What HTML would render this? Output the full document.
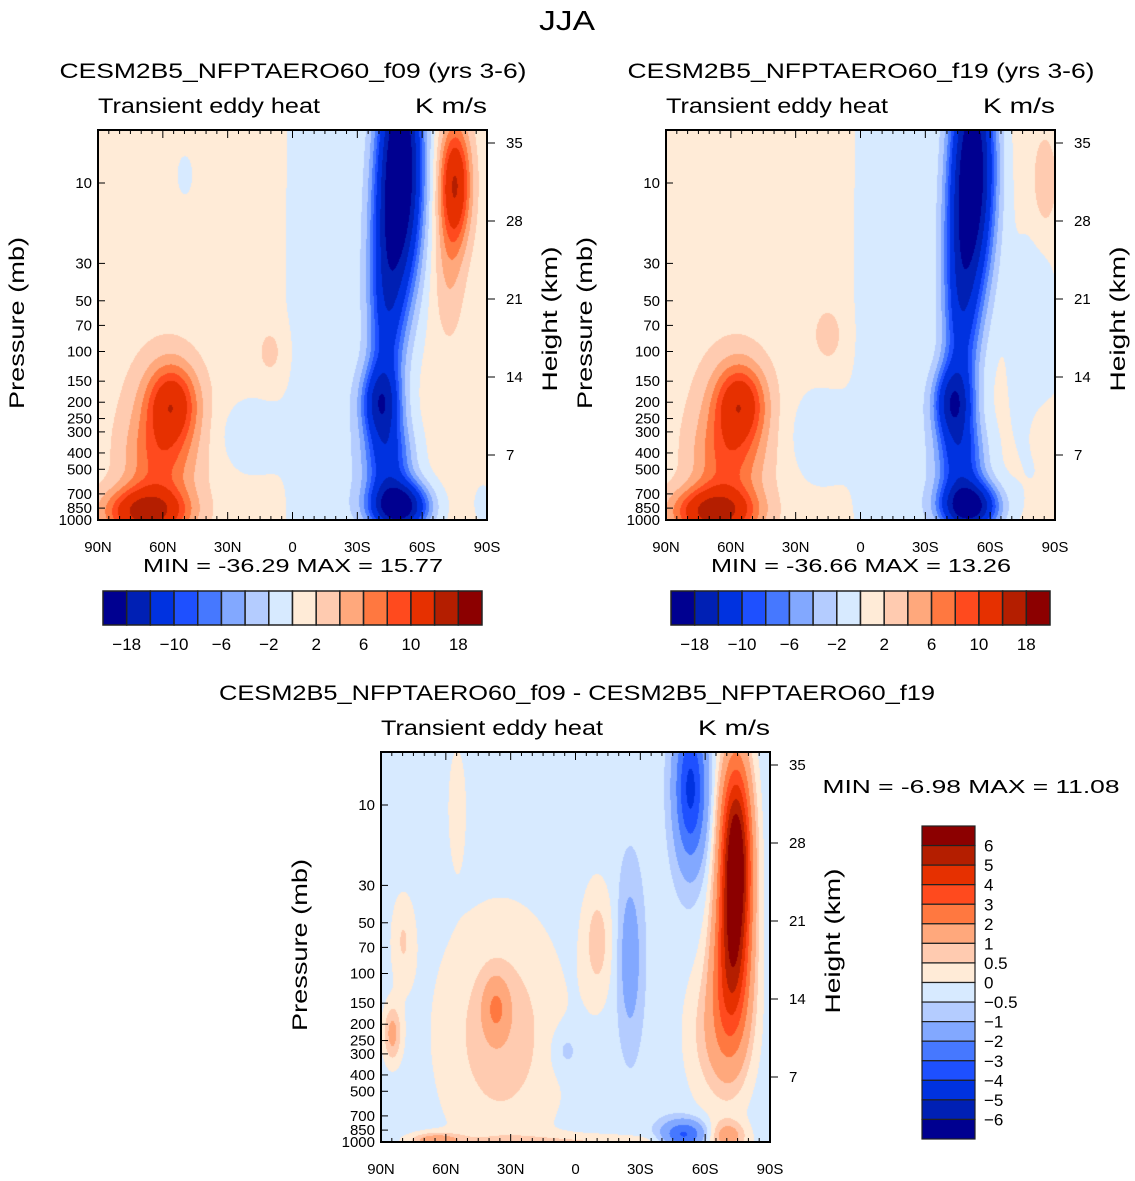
<!DOCTYPE html>
<html><head><meta charset="utf-8">
<style>
body{margin:0;background:#fff;width:1135px;height:1181px;overflow:hidden;position:relative;font-family:"Liberation Sans",sans-serif}
canvas{position:absolute}
svg{position:absolute;left:0;top:0}
</style></head><body>
<canvas id="c1" width="389" height="390" style="left:98px;top:130px"></canvas>
<canvas id="c2" width="389" height="390" style="left:666px;top:130px"></canvas>
<canvas id="c3" width="389" height="391" style="left:381px;top:752px"></canvas>
<svg id="ov" width="1135" height="1181" font-family="Liberation Sans, sans-serif"></svg>
<script>
// color table and contour levels
const colors=["#000090","#0020b4","#0032e0","#1e50ff","#4678ff","#82a8ff","#b4ccff","#d7eaff","#ffebd7","#ffcbb0","#ffa87c","#ff7840","#ff4a1e","#e63000","#b41e00","#8c0000"];
const levelsAbs=[-18,-14,-10,-8,-6,-4,-2,0,2,4,6,8,10,14,18];
const levelsDiff=[-6,-5,-4,-3,-2,-1,-0.5,0,0.5,1,2,3,4,5,6];
const cbAbsLabels=["-18","-10","-6","-2","2","6","10","18"];
const cbDiffLabels=["6","5","4","3","2","1","0.5","0","-0.5","-1","-2","-3","-4","-5","-6"];
const pTicks=[10,30,50,70,100,150,200,250,300,400,500,700,850,1000];
const zTicks=[35,28,21,14,7];
const latTicks=[90,60,30,0,-30,-60,-90];
const latLabels=["90N","60N","30N","0","30S","60S","90S"];
// field blobs: [lat, log10(p), amplitude, lat sigma, logp sigma]
const blobsF09=[[0,2,0.8,999,99],[-15,2,-2.6,12,3],[-50,0.9,-24,7,0.5],[-43,1.7,-11,6,0.55],[-40,2.3,-12,6,0.15],[-49,2.92,-22,9,0.1],[-44,2.65,-10,8,0.18],
[-75,1.0,13,5,0.25],[-72,1.5,3,5,0.3],[56,2.3,9.5,8,0.16],[60,2.45,3,14,0.35],[68,2.95,14,13,0.1],[62,2.65,5,11,0.2],[20,2.5,-2.6,10,0.15],[50,0.95,-1.5,3,0.1],[10,2.0,2,5,0.12],[-88,2.9,-2,3,0.08]];
const blobsF19=[[0,2,0.8,999,99],[-15,2,-2.6,12,3],[-52,0.9,-22,7,0.5],[-46,1.7,-11,6,0.55],[-42,2.3,-13,6,0.15],[-50,2.92,-21,9,0.1],[-46,2.65,-10,8,0.18],
[-85,1.0,3,4,0.2],[-80,2.0,-2.5,8,0.5],[56,2.3,9.5,8,0.16],[60,2.45,3,14,0.35],[68,2.95,14,13,0.1],[62,2.65,5,11,0.2],[20,2.5,-2.4,10,0.2],[15,1.9,2.4,5,0.12],[-85,2.45,2,5,0.12]];
const blobsDiff=[[0,2,-0.3,999,99],[35,2.35,1.1,20,0.5],[37,2.2,1.6,4,0.12],[55,1.0,0.7,3,0.25],[85,2.35,1.5,3,0.12],[80,1.8,0.8,4,0.2],[0,3.0,0.8,40,0.04],[65,2.98,1.6,8,0.03],
[-53,0.9,-4,5,0.3],[-50,2.95,-3,7,0.06],[-74,1.3,7.5,5,0.4],[-72,1.95,4,6,0.35],[-66,2.35,1.3,10,0.3],[-70,2.95,1.5,6,0.06],[5,2.45,-0.6,5,0.1],[-10,1.8,1,5,0.25],[-25,1.9,-1.2,4,0.35]];
function lpTop(){return 3-390/168.5;}
function latOf(px,W){return 90-px/W*180;}
function lpOf(py,H){return lpTop()+py/H*(3-lpTop());}
function field(bl,lat,lp){let v=0;for(const b of bl){const dl=(lat-b[0])/b[3],dp=(lp-b[1])/b[4];v+=b[2]*Math.exp(-0.5*(dl*dl+dp*dp));}return v;}
function hex(c){return [parseInt(c.slice(1,3),16),parseInt(c.slice(3,5),16),parseInt(c.slice(5,7),16)];}
const rgb=colors.map(hex);
function draw(id,bl,lev){const cv=document.getElementById(id),ctx=cv.getContext('2d'),W=cv.width,H=cv.height;const img=ctx.createImageData(W,H);
for(let y=0;y<H;y++){const lp=lpOf(y,H);for(let x=0;x<W;x++){const v=field(bl,latOf(x,W),lp);let k=0;while(k<lev.length&&v>=lev[k])k++;const c=rgb[k];const i=(y*W+x)*4;img.data[i]=c[0];img.data[i+1]=c[1];img.data[i+2]=c[2];img.data[i+3]=255;}}
ctx.putImageData(img,0,0);}
draw('c1',blobsF09,levelsAbs);draw('c2',blobsF19,levelsAbs);draw('c3',blobsDiff,levelsDiff);
const NS='http://www.w3.org/2000/svg',ov=document.getElementById('ov');
function el(t,a,txt){const e=document.createElementNS(NS,t);for(const k in a)e.setAttribute(k,a[k]);if(txt!==undefined)e.textContent=txt;ov.appendChild(e);return e;}
function T(x,y,s,size,anchor,name,extra){const e=el('text',Object.assign({x:x,y:y,'font-size':size,'text-anchor':anchor||'middle',fill:'#000'},extra||{}),s);

return e;}
T(567,30,'JJA',28,'middle','main-title',{textLength:56,lengthAdjust:'spacingAndGlyphs'});
function panel(x0,y0,title,tx,tlen,name){const W=389,H=390;
const xOf=lat=>x0+(90-lat)/180*W;const yOf=p=>y0+(Math.log10(p)-lpTop())/(3-lpTop())*H;
const r=el('rect',{x:x0,y:y0,width:W,height:H,fill:'none',stroke:'#000','stroke-width':2});


T(tx,y0-52,title,21,'middle',name+'-title',{textLength:tlen,lengthAdjust:'spacingAndGlyphs'});
T(x0,y0-17,'Transient eddy heat',21,'start',name+'-subtitle-left',{textLength:222,lengthAdjust:'spacingAndGlyphs'});
T(x0+W,y0-17,'K m/s',21,'end',name+'-units',{textLength:72,lengthAdjust:'spacingAndGlyphs'});
for(let lat=-85;lat<=85;lat+=5){const x=xOf(lat);const big=lat%30===0;el('line',{x1:x,x2:x,y1:y0,y2:y0+(big?8:4),stroke:'#000'});el('line',{x1:x,x2:x,y1:y0+H,y2:y0+H-(big?8:4),stroke:'#000'});}
latTicks.forEach((l,i)=>T(xOf(l),y0+H+32,latLabels[i],15,'middle',name+'-lat-label'));
pTicks.forEach(p=>{const y=yOf(p);el('line',{x1:x0,x2:x0+7,y1:y,y2:y,stroke:'#000'});T(x0-6,y+5,String(p),15,'end',name+'-p-label');});
zTicks.forEach(z=>{const y=y0+H+13-z*78/7;el('line',{x1:x0+W,x2:x0+W+8,y1:y,y2:y,stroke:'#000'});T(x0+W+19,y+5,String(z),15,'start',name+'-z-label');});
T(0,0,'Pressure (mb)',21,'middle',name+'-y-title',{transform:`translate(${x0-74},${y0+H/2-2}) rotate(-90)`,textLength:172,lengthAdjust:'spacingAndGlyphs'});
T(0,0,'Height (km)',21,'middle',name+'-y2-title',{transform:`translate(${x0+W+70},${y0+H/2-6}) rotate(-90)`,textLength:145,lengthAdjust:'spacingAndGlyphs'});}
panel(98,130,'CESM2B5_NFPTAERO60_f09 (yrs 3-6)',293,467,'panel-f09');
panel(666,130,'CESM2B5_NFPTAERO60_f19 (yrs 3-6)',861,467,'panel-f19');
panel(381,752,'CESM2B5_NFPTAERO60_f09 - CESM2B5_NFPTAERO60_f19',577,716,'panel-diff');
T(293,572,'MIN =  -36.29   MAX =   15.77',18,'middle','min-max-f09',{'xml:space':'preserve',textLength:300,lengthAdjust:'spacingAndGlyphs'});
T(861,572,'MIN =  -36.66   MAX =   13.26',18,'middle','min-max-f19',{'xml:space':'preserve',textLength:300,lengthAdjust:'spacingAndGlyphs'});
T(971,793,'MIN =   -6.98   MAX =   11.08',18,'middle','min-max-diff',{'xml:space':'preserve',textLength:297,lengthAdjust:'spacingAndGlyphs'});
function hbar(x0,name){const w=(482-103)/16;colors.forEach((c,i)=>{const r=el('rect',{x:x0+i*w,y:591,width:w,height:34,fill:c,stroke:'#222','stroke-width':1.5});

});
cbAbsLabels.forEach((s,i)=>T(x0+(2*i+1)*w,650,s.replace('-','\u2212'),17,'middle',name+'-label'));}
hbar(103,'colorbar-f09');hbar(671,'colorbar-f19');
const vh=(1139-826)/16;colors.slice().reverse().forEach((c,i)=>{const r=el('rect',{x:922,y:826+i*vh,width:53,height:vh,fill:c,stroke:'#222','stroke-width':1.2});

});
cbDiffLabels.forEach((s,i)=>T(984,826+(i+1)*vh+6,s.replace('-','\u2212'),17,'start','colorbar-diff-label'));
</script>
</body></html>
